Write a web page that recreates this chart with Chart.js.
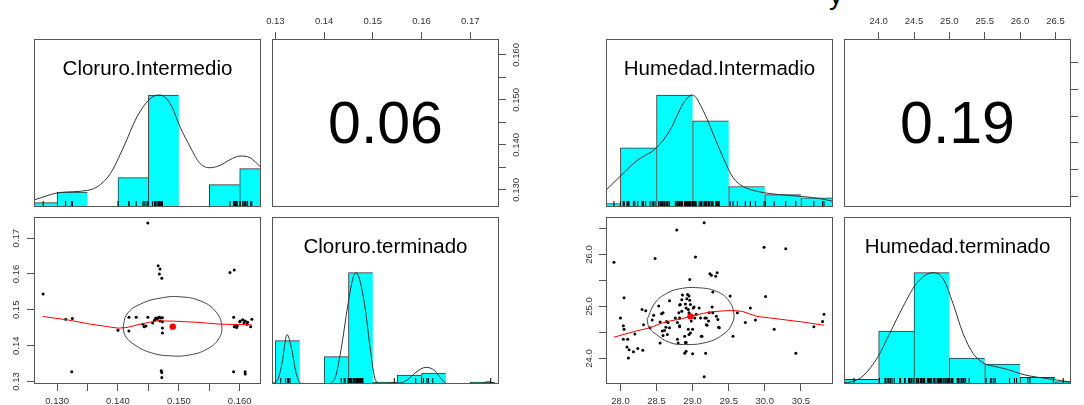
<!DOCTYPE html>
<html>
<head>
<meta charset="utf-8">
<script src="https://cdn.jsdelivr.net/npm/chart.js@4.4.1/dist/chart.umd.min.js"></script>
<style>
  html, body { margin: 0; padding: 0; background: #fff; }
  body { position: relative; width: 1084px; height: 405px; overflow: hidden; font-family: 'Liberation Sans', Arial, sans-serif; }
  .panel { position: absolute; }
  .lbl { position: absolute; text-align: center; white-space: nowrap; color: #000; }
</style>
</head>
<body>
<div class="lbl" style="left:829px; top:-19px; font-size:28px; line-height:28px;">y</div>
<script>
// ---------- Cloruro ----------
const cloruroIntermedio = [0.1277, 0.1314, 0.1325, 0.1324, 0.1449, 0.1466, 0.1469, 0.1468, 0.1472, 0.1400,
  0.1418, 0.1418, 0.1430, 0.1441, 0.1443, 0.1446, 0.1449, 0.1457, 0.1460, 0.1462,
  0.1464, 0.1466, 0.1468, 0.1471, 0.1473, 0.1469, 0.1473, 0.1473, 0.1473, 0.1471,
  0.1472, 0.1472, 0.1584, 0.1591, 0.1590, 0.1591, 0.1593, 0.1596, 0.1600, 0.1601,
  0.1605, 0.1607, 0.1609, 0.1612, 0.1613, 0.1618, 0.1620, 0.1595, 0.1590, 0.1609, 0.1609];
const cloruroTerminado = [0.1544, 0.1474, 0.1476, 0.1327, 0.1742, 0.1623, 0.1614, 0.1600, 0.1588, 0.1443,
  0.1479, 0.1441, 0.1479, 0.1460, 0.1453, 0.1455, 0.1479, 0.1463, 0.1471, 0.1477,
  0.1474, 0.1478, 0.1479, 0.1478, 0.1478, 0.1469, 0.1467, 0.1449, 0.1435, 0.1330,
  0.1325, 0.1311, 0.1604, 0.1611, 0.1479, 0.1453, 0.1457, 0.1455, 0.1467, 0.1469,
  0.1472, 0.1463, 0.1469, 0.1460, 0.1465, 0.1453, 0.1474, 0.1451, 0.1327, 0.1327, 0.1321];
const cloruroMean = [0.1490, 0.1453];
const cloruroCorr = 0.06;

const cloruroIntBreaks = [0.125, 0.130, 0.135, 0.140, 0.145, 0.150, 0.155, 0.160, 0.165];
const cloruroIntHeights = [0.039, 0.134, 0, 0.262, 1, 0, 0.2, 0.342];
const cloruroIntDensX = [0.12634, 0.1300, 0.13503, 0.13656, 0.13874, 0.14093, 0.14311, 0.1453, 0.14683, 0.14858,
  0.15022, 0.15186, 0.1535, 0.15514, 0.15678, 0.15842, 0.16005, 0.16169, 0.16344];
const cloruroIntDensY = [0.065, 0.125, 0.149, 0.179, 0.298, 0.536, 0.804, 0.967, 1.0, 0.923,
  0.714, 0.536, 0.387, 0.351, 0.372, 0.423, 0.455, 0.44, 0.357];

const cloruroTermBreaks = [0.130, 0.135, 0.140, 0.145, 0.150, 0.155, 0.160, 0.165, 0.170, 0.175];
const cloruroTermHeights = [0.39, 0, 0.246, 1, 0.018, 0.081, 0.099, 0, 0.018];
const cloruroTermDensX = [0.12925, 0.13048, 0.13137, 0.13239, 0.13335, 0.13424, 0.13526, 0.14039, 0.1421, 0.14347,
  0.14484, 0.14586, 0.14655, 0.14737, 0.14846, 0.14949, 0.15051, 0.15168, 0.15373, 0.15544,
  0.15715, 0.15885, 0.16091, 0.16262, 0.16419, 0.16535, 0.17185, 0.17376, 0.17506];
const cloruroTermDensY = [0.006, 0.039, 0.189, 0.444, 0.309, 0.099, 0.006, 0, 0.039, 0.309,
  0.7, 0.94, 1.0, 0.925, 0.67, 0.309, 0.039, 0, 0.009, 0.009,
  0.039, 0.105, 0.15, 0.123, 0.039, 0, 0, 0.021, 0];

const cloruroLoessX = [0.12765, 0.13164, 0.13546, 0.14000, 0.14148, 0.14366, 0.14639, 0.14913, 0.15350, 0.15678, 0.16197];
const cloruroLoessY = [0.14814, 0.14721, 0.14600, 0.14488, 0.14507, 0.14600, 0.14693, 0.14684, 0.14647, 0.14600, 0.14581];
const cloruroEllX = [0.14082, 0.14148, 0.14366, 0.14694, 0.15022, 0.15350, 0.15596, 0.15705, 0.15650, 0.15459,
  0.15186, 0.14858, 0.14530, 0.14257, 0.14120, 0.14082];
const cloruroEllY = [0.14507, 0.14879, 0.15158, 0.15326, 0.15363, 0.15251, 0.14972, 0.14553, 0.14181, 0.13902,
  0.13744, 0.13716, 0.13809, 0.14042, 0.14274, 0.14507];

const cloruroIntRange = [0.1262, 0.1635];
const cloruroTermRange = [0.1293, 0.1759];
const cloruroIntTicks = [0.130, 0.135, 0.140, 0.145, 0.150, 0.155, 0.160];
const cloruroIntTickLabels = ['0.130', '', '0.140', '', '0.150', '', '0.160'];
const cloruroTermTicks = [0.13, 0.14, 0.15, 0.16, 0.17];
const cloruroTermTickLabels = ['0.13', '0.14', '0.15', '0.16', '0.17'];

// ---------- Humedad ----------
const humedadIntermedio = [27.91, 28.00, 28.04, 28.05, 28.04, 28.05, 28.10, 28.09, 28.12, 28.11,
  28.18, 28.20, 28.24, 28.31, 28.32, 28.30, 28.35, 28.41, 28.44, 28.46,
  28.48, 28.53, 28.55, 28.58, 28.55, 28.59, 28.61, 28.63, 28.59, 28.66,
  28.68, 28.76, 28.78, 28.79, 28.80, 28.81, 28.83, 28.82, 28.82, 28.86,
  28.89, 28.90, 28.89, 28.91, 28.91, 28.90, 28.91, 28.94, 28.95, 28.92,
  28.95, 28.96, 28.97, 28.96, 28.94, 28.97, 28.95, 29.00, 29.00, 29.02,
  29.04, 29.05, 29.09, 29.11, 29.13, 29.16, 29.16, 29.17, 29.19, 29.18,
  29.20, 29.23, 29.24, 29.26, 29.32, 29.34, 29.28, 29.27, 29.28, 29.37,
  29.52, 29.56, 29.62, 29.73, 29.80, 29.87, 29.99, 30.01, 30.13, 30.29,
  30.43, 30.68, 30.80, 30.82, 28.93, 28.85, 28.57, 28.64, 28.68, 28.65,
  28.79, 29.19, 29.36, 29.12, 29.33, 29.35, 28.82, 28.85, 28.82, 29.01,
  29.22, 29.03, 28.98];
const humedadTerminado = [25.85, 24.78, 24.63, 24.56, 24.37, 25.17, 24.37, 24.22, 24.17, 24.01,
  24.13, 24.47, 24.19, 24.16, 24.65, 24.94, 24.92, 24.59, 24.74, 24.83,
  25.92, 25.01, 24.70, 24.53, 24.30, 24.44, 24.54, 24.60, 24.88, 24.69,
  25.11, 24.78, 26.47, 24.37, 24.30, 24.88, 25.04, 24.63, 24.61, 25.22,
  24.43, 24.31, 24.10, 24.14, 24.31, 25.05, 24.97, 24.94, 24.88, 25.15,
  25.20, 25.12, 25.04, 25.52, 24.56, 24.49, 24.46, 24.56, 24.09, 24.99,
  25.95, 24.85, 24.97, 24.78, 24.43, 23.65, 26.61, 24.78, 24.78, 24.10,
  24.64, 24.88, 25.63, 25.60, 25.58, 25.65, 25.28, 24.99, 24.88, 24.59,
  25.20, 24.43, 24.88, 24.69, 24.97, 24.74, 26.14, 25.19, 24.56, 26.11,
  24.10, 24.61, 24.71, 24.85, 25.23, 25.13, 24.86, 24.71, 24.59, 24.46,
  24.69, 24.65, 24.60, 24.43, 24.81, 24.75, 25.03, 24.91, 24.78, 24.97,
  24.72, 24.78, 24.72];
const humedadMean = [28.97, 24.81];
const humedadCorr = 0.19;

const humedadIntBreaks = [27.5, 28.0, 28.5, 29.0, 29.5, 30.0, 30.5, 31.0];
const humedadIntHeights = [0.03, 0.529, 1, 0.769, 0.183, 0.111, 0.081];
const humedadIntDensX = [27.801, 28.0, 28.222, 28.499, 28.684, 28.869, 28.998, 29.146, 29.285, 29.423,
  29.562, 29.701, 29.885, 30.07, 30.301, 30.532, 30.763, 30.944];
const humedadIntDensY = [0.15, 0.276, 0.411, 0.529, 0.682, 0.922, 1.0, 0.862, 0.652, 0.441,
  0.261, 0.183, 0.141, 0.12, 0.105, 0.093, 0.075, 0.051];

const humedadTermBreaks = [23.5, 24.0, 24.5, 25.0, 25.5, 26.0, 26.5, 27.0];
const humedadTermHeights = [0.042, 0.475, 1, 0.233, 0.179, 0.06, 0.021];
const humedadTermDensX = [23.505, 23.623, 23.778, 23.991, 24.156, 24.344, 24.533, 24.769, 24.91, 25.052,
  25.193, 25.335, 25.491, 25.665, 25.854, 25.986, 26.137, 26.325, 26.514, 26.712];
const humedadTermDensY = [0.012, 0.021, 0.072, 0.245, 0.454, 0.693, 0.901, 1.0, 0.946, 0.722,
  0.454, 0.275, 0.185, 0.155, 0.125, 0.096, 0.072, 0.054, 0.036, 0.018];

const humedadLoessX = [27.91, 28.22, 28.41, 28.55, 28.68, 28.87, 28.97, 29.15, 29.28, 29.47, 29.61, 29.70, 29.89, 30.07, 30.30, 30.53, 30.82];
const humedadLoessY = [24.41, 24.53, 24.59, 24.67, 24.72, 24.77, 24.81, 24.87, 24.90, 24.92, 24.92, 24.90, 24.81, 24.78, 24.74, 24.70, 24.64];
const humedadEllX = [28.37, 28.48, 28.64, 28.82, 29.08, 29.33, 29.49, 29.57, 29.54, 29.42, 29.19, 28.87, 28.68, 28.50, 28.40, 28.37];
const humedadEllY = [24.75, 25.07, 25.25, 25.34, 25.36, 25.29, 25.13, 24.88, 24.65, 24.46, 24.31, 24.27, 24.31, 24.46, 24.59, 24.75];

const humedadIntRange = [27.80, 30.945];
const humedadTermRange = [23.51, 26.72];
const humedadIntTicks = [28.0, 28.5, 29.0, 29.5, 30.0, 30.5];
const humedadIntTickLabels = ['28.0', '28.5', '29.0', '29.5', '30.0', '30.5'];
const humedadTermTicks = [24.0, 24.5, 25.0, 25.5, 26.0, 26.5];
const humedadTermTickLabels = ['24.0', '24.5', '25.0', '25.5', '26.0', '26.5'];
const humedadTermTickLabelsSparse = ['24.0', '', '25.0', '', '26.0', ''];

// ---------- chart helpers ----------
Chart.defaults.font.family = "'Liberation Sans', Arial, sans-serif";
Chart.defaults.animation = false;
Chart.defaults.plugins.legend.display = false;
Chart.defaults.plugins.tooltip.enabled = false;

const AX = 32;        // space reserved for ticks + labels on an axis side
const BOX_W = 227;

// frame around each panel
const boxPlugin = {
  id: 'panelBox',
  afterDraw(chart) {
    const { ctx, chartArea: a } = chart;
    ctx.save();
    ctx.strokeStyle = '#555';
    ctx.lineWidth = 1;
    ctx.strokeRect(a.left + 0.5, a.top + 0.5, a.right - a.left - 1, a.bottom - a.top - 1);
    ctx.restore();
  }
};

function axis(range, position, ticks, labels, rotated, pad) {
  const s = {
    type: 'linear', min: range[0], max: range[1], offset: false,
    display: !!ticks,
    grid: { drawOnChartArea: false, drawTicks: true, tickLength: 7, color: '#555', offset: false },
    border: { display: false }
  };
  if (position) s.position = position;
  if (ticks) {
    s.ticks = {
      autoSkip: false, color: '#333', font: { size: 9.5 }, padding: pad,
      callback: (v, i) => labels[i]
    };
    if (rotated) Object.assign(s.ticks, { minRotation: 90, maxRotation: 90, crossAlign: 'center' });
    else Object.assign(s.ticks, { minRotation: 0, maxRotation: 0 });
    s.afterBuildTicks = sc => { sc.ticks = ticks.map(v => ({ value: v })); };
    s.afterFit = sc => {
      if (sc.isHorizontal()) sc.height = AX; else sc.width = AX;
      sc.paddingLeft = sc.paddingRight = sc.paddingTop = sc.paddingBottom = 0;
    };
  }
  return s;
}

function panel(x, y, w, h, sides, type, scales, datasets) {
  const wrap = document.createElement('div');
  wrap.className = 'panel';
  const W = w + 2 * AX, H = h + 2 * AX;
  wrap.style.left = (x - AX) + 'px';
  wrap.style.top = (y - AX) + 'px';
  wrap.style.width = W + 'px';
  wrap.style.height = H + 'px';
  const cv = document.createElement('canvas');
  cv.width = W; cv.height = H;
  cv.style.width = W + 'px'; cv.style.height = H + 'px';
  wrap.appendChild(cv);
  document.body.appendChild(wrap);
  const padding = { left: AX, right: AX, top: AX, bottom: AX };
  sides.forEach(s => { padding[s] = 0; });
  return new Chart(cv, {
    type,
    data: { datasets },
    options: { responsive: false, devicePixelRatio: 1, events: [], layout: { padding }, scales },
    plugins: [boxPlugin]
  });
}

function label(text, x, w, cy, size) {
  const d = document.createElement('div');
  d.className = 'lbl';
  d.textContent = text;
  d.style.left = x + 'px';
  d.style.width = w + 'px';
  d.style.fontSize = size + 'px';
  d.style.lineHeight = size + 'px';
  d.style.top = (cy - 0.488 * size) + 'px';
  document.body.appendChild(d);
}

const zip = (xs, ys) => xs.map((v, i) => ({ x: v, y: ys[i] }));

function histPanel(x, y, h, range, breaks, heights, densX, densY, rug, title) {
  const last = heights.length - 1;
  const datasets = [
    { type: 'scatter', data: rug.map(v => ({ x: v, y: 0 })), pointStyle: 'line', pointRotation: 90,
      pointRadius: 6, pointBorderColor: '#000', pointBorderWidth: 1, clip: 0, order: 0 },
    { type: 'line', data: zip(densX, densY), borderColor: '#333', borderWidth: 1, pointRadius: 0,
      cubicInterpolationMode: 'monotone', clip: 0, order: 1 },
    { type: 'bar', data: heights.map((v, i) => ({ x: (breaks[i] + breaks[i + 1]) / 2, y: v })),
      backgroundColor: '#00ffff', borderColor: '#333',
      borderWidth: c => ({ left: 1, top: 1, bottom: 0, right: c.dataIndex === last ? 1 : 0 }),
      borderSkipped: false, barPercentage: 1, categoryPercentage: 1, order: 2 }
  ];
  panel(x, y, BOX_W, h, [], 'bar', {
    x: axis(range, 'bottom'),
    y: axis([0, 1.5], 'left')
  }, datasets);
  label(title, x, BOX_W, y + 29.3, 20.5);
}

function scatterPanel(x, y, h, xs, ys, xRange, yRange, xt, xl, yt, yl, yPad, loess, ell, mean) {
  const datasets = [
    { type: 'scatter', data: [{ x: mean[0], y: mean[1] }], pointRadius: 3.2,
      pointBackgroundColor: '#ff0000', pointBorderWidth: 0, order: 0 },
    { type: 'line', data: loess, borderColor: '#ff0000', borderWidth: 1, pointRadius: 0, tension: 0, clip: 0, order: 1 },
    { type: 'line', data: ell, borderColor: '#444', borderWidth: 1, pointRadius: 0, tension: 0.45, clip: 0, order: 2 },
    { type: 'scatter', data: zip(xs, ys), pointRadius: 1.5, pointBackgroundColor: '#000', pointBorderWidth: 0, order: 3 }
  ];
  panel(x, y, BOX_W, h, ['left', 'bottom'], 'scatter', {
    x: axis(xRange, 'bottom', xt, xl, false, 5),
    y: axis(yRange, 'left', yt, yl, true, yPad)
  }, datasets);
}

function corrPanel(x, y, h, xRange, yRange, xt, xl, yt, yl, yPad, r) {
  panel(x, y, BOX_W, h, ['top', 'right'], 'scatter', {
    x: axis(xRange, 'top', xt, xl, false, 5),
    y: axis(yRange, 'right', yt, yl, true, yPad)
  }, []);
  label(r.toFixed(2), x, BOX_W, y + h / 2, 59);
}

const ROW1 = 39, H1 = 168, ROW2 = 217, H2 = 167;

// Cloruro block
histPanel(34, ROW1, H1, cloruroIntRange, cloruroIntBreaks, cloruroIntHeights,
  cloruroIntDensX, cloruroIntDensY, cloruroIntermedio, 'Cloruro.Intermedio');
corrPanel(272, ROW1, H1, cloruroTermRange, cloruroIntRange,
  cloruroTermTicks, cloruroTermTickLabels, cloruroIntTicks, cloruroIntTickLabels, -2, cloruroCorr);
scatterPanel(34, ROW2, H2, cloruroIntermedio, cloruroTerminado, cloruroIntRange, cloruroTermRange,
  cloruroIntTicks, cloruroIntTickLabels, cloruroTermTicks, cloruroTermTickLabels, 1,
  zip(cloruroLoessX, cloruroLoessY), zip(cloruroEllX, cloruroEllY), cloruroMean);
histPanel(272, ROW2, H2, cloruroTermRange, cloruroTermBreaks, cloruroTermHeights,
  cloruroTermDensX, cloruroTermDensY, cloruroTerminado, 'Cloruro.terminado');

// Humedad block
histPanel(606, ROW1, H1, humedadIntRange, humedadIntBreaks, humedadIntHeights,
  humedadIntDensX, humedadIntDensY, humedadIntermedio, 'Humedad.Intermadio');
corrPanel(844, ROW1, H1, humedadTermRange, humedadIntRange,
  humedadTermTicks, humedadTermTickLabels, humedadIntTicks, humedadIntTickLabels, 2, humedadCorr);
scatterPanel(606, ROW2, H2, humedadIntermedio, humedadTerminado, humedadIntRange, humedadTermRange,
  humedadIntTicks, humedadIntTickLabels, humedadTermTicks, humedadTermTickLabelsSparse, 0,
  zip(humedadLoessX, humedadLoessY), zip(humedadEllX, humedadEllY), humedadMean);
histPanel(844, ROW2, H2, humedadTermRange, humedadTermBreaks, humedadTermHeights,
  humedadTermDensX, humedadTermDensY, humedadTerminado, 'Humedad.terminado');
</script>
</body>
</html>
